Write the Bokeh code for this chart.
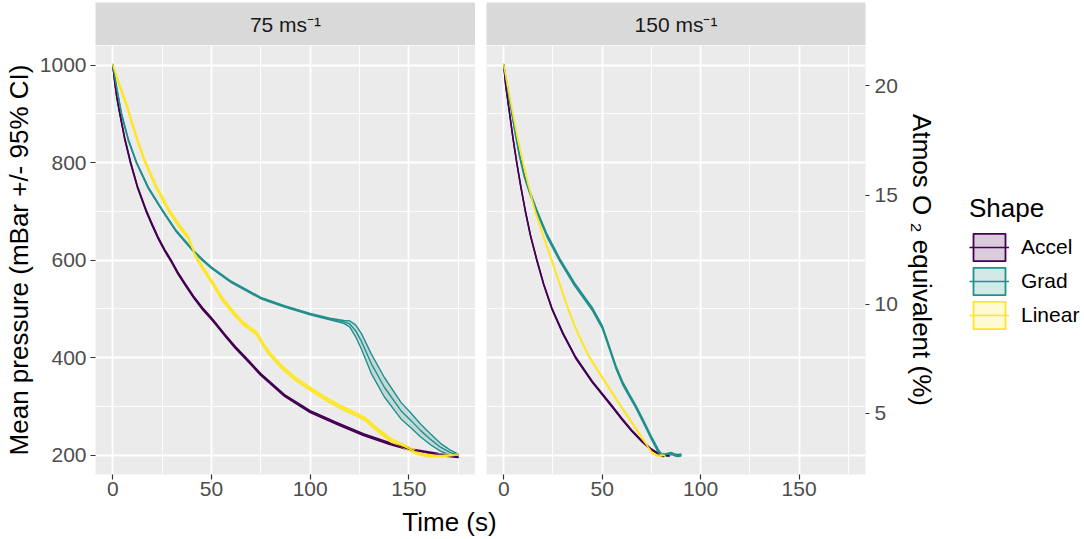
from bokeh.plotting import figure
from bokeh.models import Range1d, LinearAxis, FixedTicker, Grid, Label, Legend, LegendItem
from bokeh.layouts import column, row
from bokeh.embed import file_html
from bokeh.resources import INLINE

# ---------------- data ----------------
SHAPES = ["Accel", "Grad", "Linear"]
COLORS = {"Accel": "#440154", "Grad": "#21908C", "Linear": "#FDE725"}
PANEL_TITLES = ["75 ms\u207b\u00b9", "150 ms\u207b\u00b9"]

X_TICKS = [0, 50, 100, 150]
X_MINOR = [25, 75, 125, 175]
Y_TICKS = [200, 400, 600, 800, 1000]
Y_MINOR = [300, 500, 700, 900]
O2_TICKS = [5, 10, 15, 20]
# secondary axis relation: (pressure mBar, O2 %)
O2_REF_LOW = (286, 5)
O2_REF_HIGH = (957, 20)

# 75 m/s panel
ACC75_T = [0, 1, 2, 3.6, 6, 9, 12.5, 17, 20, 23, 26.3, 29.6, 33, 37, 41, 45.5, 49.5, 52, 57, 62,
           67, 75, 87, 100, 114, 127, 140, 152, 165, 175]
ACC75_P = [1000, 965, 935, 900, 850, 800, 750, 700, 672, 645, 620, 598, 573, 548, 524, 500, 482, 470, 445, 421,
           400, 365, 322, 289, 264, 242, 224, 210, 201, 197]
ACC75_CI = [1, 2, 2, 2, 2, 2, 2, 2, 2, 2, 2, 2, 2, 2, 2, 2, 2, 2, 2, 2,
            2, 2, 2, 2, 2, 2, 2, 2, 2, 2]

GRD75_T = [0, 2, 4.4, 8, 12, 18, 25.4, 32, 41, 45.5, 50, 60, 75, 87, 100, 110, 117, 120, 123, 126,
           131, 137.6, 146, 151, 156, 161, 166, 171, 175]
GRD75_P = [1000, 952, 900, 845, 800, 748, 700, 660, 618, 600, 584, 555, 522, 505, 489, 479, 473, 469, 455, 433,
           387, 339, 291, 271, 250, 232, 216, 205, 200]
GRD75_CI = [1, 1.5, 1.5, 1.5, 1.5, 1.5, 1.5, 1.5, 1.5, 1.5, 1.5, 1.5, 1.5, 1.5, 1.5, 1.5, 3, 6, 12, 16,
            20, 20, 17, 15, 13, 11, 8, 5, 2]

LIN75_T = [0, 3, 7, 10, 13, 16, 22, 28.7, 34, 38, 40.5, 43, 50.5, 55.5, 60, 65.6, 70, 73, 76, 79,
           85.7, 92, 100, 108, 116, 124, 128.4, 134, 141, 149, 155, 160, 168, 175]
LIN75_P = [1000, 963, 918, 878, 840, 805, 750, 700, 668, 648, 622, 600, 553, 520, 497, 472, 458, 449, 428, 410,
           380, 358, 336, 315, 297, 282, 272, 252, 230, 215, 203, 199, 199, 200]
LIN75_CI = [1.5, 3, 3.5, 3.5, 3.5, 3.5, 3.5, 3.5, 3.5, 3.5, 3.5, 3.5, 3.5, 3.5, 3.5, 3.5, 3.5, 3.5, 3.5, 3.5,
            3.5, 3.5, 3.5, 3.5, 3.5, 3.5, 3.5, 3.5, 3.5, 3.5, 3, 2.5, 2.5, 2]

# 150 m/s panel
ACC150_T = [0, 1, 3, 4.7, 6.6, 8.7, 11, 13.6, 16.8, 20.3, 24.5, 30, 36.5, 45, 55, 60, 65, 70, 75, 79,
            81, 82.5, 84]
ACC150_P = [1000, 958, 900, 850, 800, 750, 700, 650, 600, 550, 500, 450, 400, 350, 300, 274, 250, 229, 211, 201,
            198, 200, 199]
ACC150_CI = [1, 1.5, 1.5, 1.5, 1.5, 1.5, 1.5, 1.5, 1.5, 1.5, 1.5, 1.5, 1.5, 1.5, 1.5, 1.5, 1.5, 1.5, 1.5, 1.5,
             1.5, 1.5, 1.5]

GRD150_T = [0, 2, 4.2, 6, 8, 10.5, 13.4, 16.8, 22, 28.5, 36, 42, 45.2, 48.6, 50, 52, 54.5, 57, 60.3, 64,
            67, 71, 75.4, 78.7, 80, 82, 83.5, 85.4, 87, 88.5, 90]
GRD150_P = [1000, 952, 900, 858, 815, 772, 737, 700, 650, 600, 550, 516, 498, 473, 463, 440, 410, 380, 348, 321,
            300, 268, 232, 207, 201, 200, 202, 203, 200, 199, 200]
GRD150_CI = [1, 2.5, 3, 3, 3, 3, 3, 3, 3, 3, 3, 3, 3, 3, 3, 3, 3, 3, 3, 3,
             3, 3, 3, 3, 2.5, 2, 2, 2, 2, 2, 2]

LIN150_T = [0, 2.3, 4.6, 7, 9.8, 12.7, 16, 20, 24.3, 28.5, 32.7, 36, 38.5, 43.6, 51, 59.5, 67, 72, 75.4, 77.9,
            80, 82]
LIN150_P = [1000, 950, 900, 850, 800, 750, 700, 650, 600, 550, 500, 465, 442, 400, 353, 300, 255, 224, 205, 199,
            200, 199]
LIN150_CI = [1, 1.5, 1.5, 1.5, 1.5, 1.5, 1.5, 1.5, 1.5, 1.5, 1.5, 1.5, 1.5, 1.5, 1.5, 1.5, 1.5, 1.5, 1.5, 1.5,
             1.5, 1.5]

PANEL_DATA = [
    {"Accel": (ACC75_T, ACC75_P, ACC75_CI), "Grad": (GRD75_T, GRD75_P, GRD75_CI),
     "Linear": (LIN75_T, LIN75_P, LIN75_CI)},
    {"Accel": (ACC150_T, ACC150_P, ACC150_CI), "Grad": (GRD150_T, GRD150_P, GRD150_CI),
     "Linear": (LIN150_T, LIN150_P, LIN150_CI)},
]

# ---------------- styling / layout ----------------
FONT = "Liberation Sans"
PANEL_BG = "#EBEBEB"
STRIP_BG = "#D9D9D9"
X_LO, X_HI = -8.75, 183.75
Y_LO, Y_HI = 160, 1040

FRAME_W = 383
FRAME_H = 429
LEFT_B = 92
GAP = 11
RIGHT_B = 70
LEGEND_W = 145
STRIP_H = 45
STRIP_TOP = 2
BOTTOM_B = 33
TITLE_H = 31
TITLE_X = 449
RIB_LW = 1.4
LINE_LW = 1.4


def clean(p):
    p.center = [r for r in p.center if not isinstance(r, Grid)]
    p.outline_line_color = None
    p.border_fill_color = "white"
    return p


def axis_style(**kw):
    base = dict(major_label_text_font=FONT, major_label_text_font_size="21px",
                major_label_text_color="#4D4D4D",
                major_tick_line_color="#333333", major_tick_line_width=1.2,
                major_tick_out=5, major_tick_in=0,
                minor_tick_line_color=None, axis_line_color=None,
                axis_label_text_font=FONT, axis_label_text_font_size="26px",
                axis_label_text_font_style="normal", axis_label_text_color="black")
    base.update(kw)
    return base


def panel_fig(mbl, mbr):
    p = figure(width=mbl + FRAME_W + mbr, height=FRAME_H + BOTTOM_B,
               x_range=Range1d(X_LO, X_HI), y_range=Range1d(Y_LO, Y_HI),
               x_axis_location=None, y_axis_location=None,
               toolbar_location=None, output_backend="svg",
               min_border_left=mbl, min_border_right=mbr,
               min_border_top=0, min_border_bottom=BOTTOM_B)
    clean(p)
    p.background_fill_color = PANEL_BG
    p.add_layout(Grid(dimension=0, ticker=FixedTicker(ticks=X_TICKS, minor_ticks=X_MINOR),
                      grid_line_color="white", grid_line_width=1.8,
                      minor_grid_line_color="white", minor_grid_line_width=0.9))
    p.add_layout(Grid(dimension=1, ticker=FixedTicker(ticks=Y_TICKS, minor_ticks=Y_MINOR),
                      grid_line_color="white", grid_line_width=1.8,
                      minor_grid_line_color="white", minor_grid_line_width=0.9))
    xax = LinearAxis(ticker=FixedTicker(ticks=X_TICKS), **axis_style(major_label_standoff=2))
    p.add_layout(xax, "below")
    return p


def draw(p, data, rib_lw=RIB_LW):
    ribs, lines = {}, {}
    for s in SHAPES:
        t, m, ci = data[s]
        xs = list(t) + list(t)[::-1]
        up = [a + c for a, c in zip(m, ci)]
        lo = [a - c for a, c in zip(m, ci)]
        ribs[s] = p.patch(xs, up + lo[::-1], fill_color=COLORS[s], fill_alpha=0.2,
                          line_color=COLORS[s], line_width=rib_lw, line_join="round")
    for s in SHAPES:
        t, m, ci = data[s]
        lines[s] = p.line(t, m, line_color=COLORS[s], line_width=LINE_LW, line_join="round")
    return ribs, lines


def strip_fig(mbl, mbr, text):
    s = figure(width=mbl + FRAME_W + mbr, height=STRIP_H, x_range=Range1d(0, 1), y_range=Range1d(0, 1),
               x_axis_location=None, y_axis_location=None,
               toolbar_location=None, output_backend="svg",
               min_border_left=mbl, min_border_right=mbr, min_border_top=STRIP_TOP, min_border_bottom=0)
    clean(s)
    s.background_fill_color = STRIP_BG
    s.add_layout(Label(x=0.5, y=0.5, text=text, text_align="center", text_baseline="middle",
                       text_font=FONT, text_font_size="21px", text_color="#1A1A1A"))
    return s


# left panel
pL = panel_fig(LEFT_B, 0)
draw(pL, PANEL_DATA[0])
yax = LinearAxis(ticker=FixedTicker(ticks=Y_TICKS), axis_label="Mean pressure (mBar +/- 95% CI)",
                 **axis_style(axis_label_standoff=3, major_label_standoff=4))
pL.add_layout(yax, "left")

# right panel
pR = panel_fig(GAP, RIGHT_B)
draw(pR, PANEL_DATA[1])
(p_lo, o_lo), (p_hi, o_hi) = O2_REF_LOW, O2_REF_HIGH
slope = (o_hi - o_lo) / (p_hi - p_lo)
pR.extra_y_ranges = {"o2": Range1d(o_lo + (Y_LO - p_lo) * slope, o_lo + (Y_HI - p_lo) * slope)}
rax = LinearAxis(y_range_name="o2", ticker=FixedTicker(ticks=O2_TICKS),
                 axis_label="Atmos O \u2082 equivalent (%)",
                 **axis_style(axis_label_standoff=6, major_label_standoff=5, major_tick_out=4))
pR.add_layout(rax, "right")

sL = strip_fig(LEFT_B, 0, PANEL_TITLES[0])
sR = strip_fig(GAP, RIGHT_B, PANEL_TITLES[1])

# legend column (its renderers reuse the series data, which lies outside this figure's view)
COL_H = STRIP_H + FRAME_H + BOTTOM_B
lf = figure(width=LEGEND_W, height=COL_H, x_range=Range1d(-1, 0), y_range=Range1d(-1, 0),
            x_axis_location=None, y_axis_location=None,
            toolbar_location=None, output_backend="svg",
            min_border_left=0, min_border_right=0, min_border_top=0, min_border_bottom=0)
clean(lf)
lf.background_fill_color = "white"
lribs, llines = draw(lf, PANEL_DATA[1], rib_lw=1.8)
legend = Legend(items=[LegendItem(label=s, renderers=[lribs[s], llines[s]]) for s in SHAPES],
                location=(30, COL_H - 332), title="Shape",
                title_text_font=FONT, title_text_font_size="26px", title_text_font_style="normal",
                title_text_color="black", title_standoff=6,
                label_text_font=FONT, label_text_font_size="21px", label_text_color="black",
                glyph_width=40, glyph_height=34, spacing=0, label_standoff=12,
                padding=0, margin=0, border_line_color=None, background_fill_alpha=0)
lf.add_layout(legend, "center")

TOTAL_W = LEFT_B + FRAME_W + GAP + FRAME_W + RIGHT_B + LEGEND_W
tfig = figure(width=TOTAL_W, height=TITLE_H, x_range=Range1d(0, 1), y_range=Range1d(0, 1),
              x_axis_location=None, y_axis_location=None,
              toolbar_location=None, output_backend="svg",
              min_border_left=0, min_border_right=0, min_border_top=0, min_border_bottom=0)
clean(tfig)
tfig.background_fill_color = "white"
tfig.add_layout(Label(x=TITLE_X, y=TITLE_H / 2 + 1, x_units="screen", y_units="screen", text="Time (s)",
                      text_align="center", text_baseline="middle",
                      text_font=FONT, text_font_size="26px", text_color="black"))

layout = column(row(column(sL, pL), column(sR, pR), lf), tfig)

open("out.html", "w").write(file_html(layout, INLINE))
